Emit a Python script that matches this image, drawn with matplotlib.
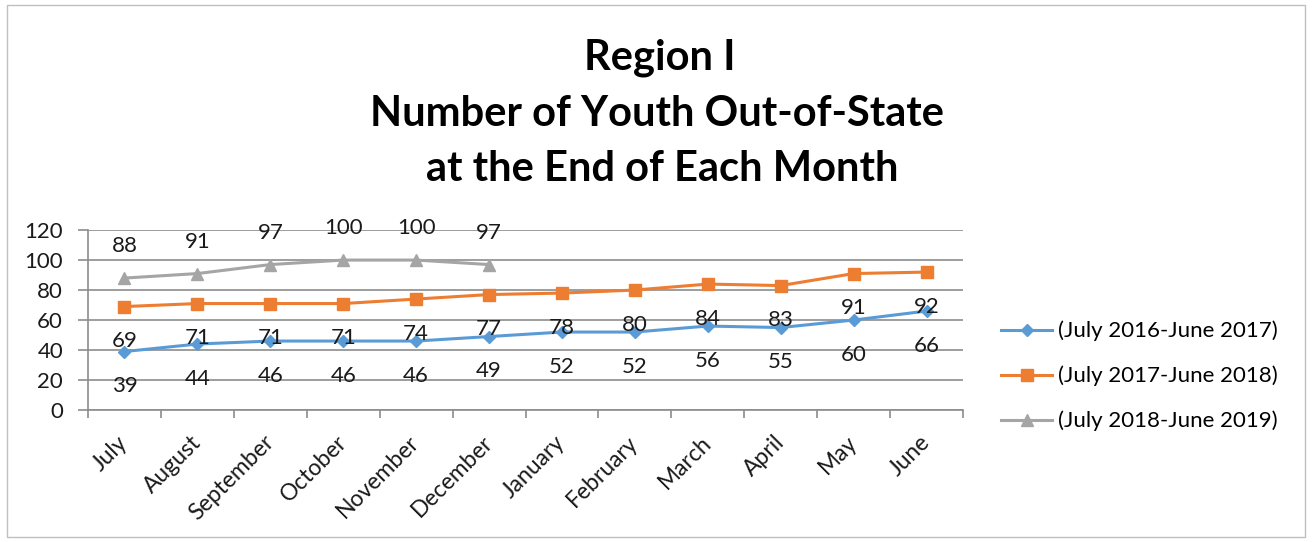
import matplotlib
matplotlib.use('Agg')
import matplotlib.pyplot as plt
from matplotlib.patches import Rectangle

plt.rcParams['font.family'] = ['Lato', 'DejaVu Sans']

months = ['July', 'August', 'September', 'October', 'November', 'December',
          'January', 'February', 'March', 'April', 'May', 'June']
fy2017 = [39, 44, 46, 46, 46, 49, 52, 52, 56, 55, 60, 66]
fy2018 = [69, 71, 71, 71, 74, 77, 78, 80, 84, 83, 91, 92]
fy2019 = [88, 91, 97, 100, 100, 97]
names = ['(July 2016-June 2017)', '(July 2017-June 2018)', '(July 2018-June 2019)']

blue = '#5B9BD5'
orange = '#ED7D31'
gray = '#A5A5A5'
txt = '#1a1a1a'
axcol = '#8C8C8C'

fig = plt.figure(figsize=(13.12, 5.42), dpi=100)
ax = fig.add_axes([0.0671, 0.2435, 0.6669, 0.332])

x = list(range(len(months)))
ax.plot(x, fy2017, color=blue, lw=2.2, marker='D', ms=6, label=names[0])
ax.plot(x, fy2018, color=orange, lw=2.2, marker='s', ms=8, label=names[1])
ax.plot(x[:len(fy2019)], fy2019, color=gray, lw=2.2, marker='^', ms=8, label=names[2])

# data labels: first two series below the point, third above
for i, v in enumerate(fy2017):
    ax.annotate(str(v), (i, v), xytext=(0, -25), textcoords='offset points',
                ha='center', va='center', fontsize=16, color=txt)
for i, v in enumerate(fy2018):
    ax.annotate(str(v), (i, v), xytext=(0, -25), textcoords='offset points',
                ha='center', va='center', fontsize=16, color=txt)
for i, v in enumerate(fy2019):
    ax.annotate(str(v), (i, v), xytext=(0, 23), textcoords='offset points',
                ha='center', va='center', fontsize=16, color=txt)

ax.set_xlim(-0.5, len(months) - 0.5)
ax.set_ylim(0, 120)
ax.set_yticks(range(0, 121, 20))
ax.yaxis.grid(True, color=axcol, lw=1.2)
ax.set_axisbelow(True)
for s in ['top', 'right']:
    ax.spines[s].set_visible(False)
for s in ['bottom', 'left']:
    ax.spines[s].set_color(axcol)
    ax.spines[s].set_linewidth(1.2)

ax.set_xticks(x)
ax.set_xticklabels(months, rotation=45, ha='right', va='center', rotation_mode='anchor',
                   fontsize=16.5, color=txt)
ax.tick_params(axis='x', length=0, pad=21)
ax.set_xticks([i - 0.5 for i in range(len(months) + 1)], minor=True)
ax.tick_params(axis='x', which='minor', length=6, color=axcol, width=1.2)
ax.tick_params(axis='y', length=7, color=axcol, width=1.2, labelsize=16,
               labelcolor=txt, pad=11)

fig.text(0.503, 0.893, 'Region I', ha='center', va='center', fontsize=30, fontweight='bold')
fig.text(0.501, 0.79, 'Number of Youth Out-of-State', ha='center', va='center', fontsize=30, fontweight='bold')
fig.text(0.505, 0.688, 'at the End of Each Month', ha='center', va='center', fontsize=30, fontweight='bold')

fig.legend(loc='center left', bbox_to_anchor=(0.748, 0.306), frameon=False,
           fontsize=16, handlelength=2.3, handletextpad=0.27, labelspacing=1.1)

fig.patches.append(Rectangle((0.005, 0.01), 0.99, 0.98, transform=fig.transFigure,
                             fill=False, edgecolor='#BFBFBF', lw=1))

fig.savefig('out.png', dpi=100)
